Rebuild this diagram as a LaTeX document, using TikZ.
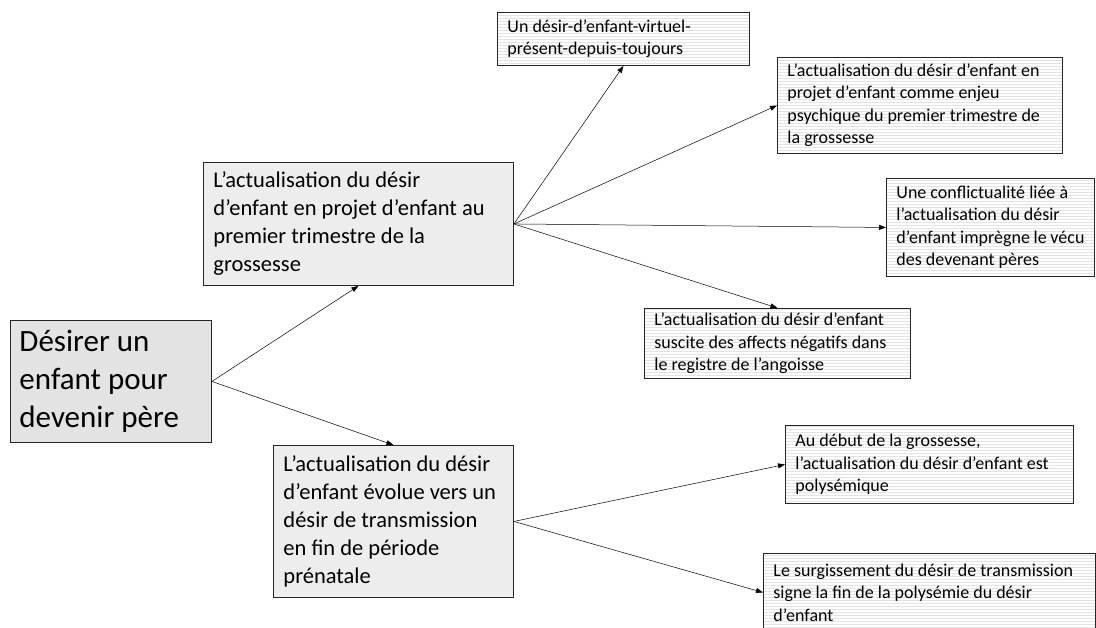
\documentclass[tikz,border=0pt]{standalone}
\usepackage{fontspec}
\setmainfont{Carlito}
\usetikzlibrary{arrows.meta, patterns}

\begin{document}
\begin{tikzpicture}[
    x=1pt, y=-1pt,
    box/.style={rectangle, draw=black!85, line width=0.9pt, anchor=north west, align=flush left, inner xsep=10pt, inner ysep=0pt},
    rootbox/.style={box, fill=gray!22, font=\fontsize{31}{38}\selectfont},
    midbox/.style={box, fill=gray!14, font=\fontsize{22.5}{28}\selectfont},
    leafbox/.style={box, pattern=horizontal lines, pattern color=gray!22, font=\fontsize{18}{22.5}\selectfont},
    arrow/.style={-{Triangle[length=7pt, width=5pt]}, line width=0.5pt},
]

\path[use as bounding box, clip] (0,0) rectangle (1096,628);

% Root
\node[rootbox, minimum width=201pt, minimum height=122pt, text width=183pt, inner xsep=9pt] (root) at (10,320) {Désirer un\\enfant pour\\devenir père};

% Second level
\node[midbox, minimum width=310pt, minimum height=123pt, text width=290pt] (midA) at (203,162)
    {L’actualisation du désir\\d’enfant en projet d’enfant au\\premier trimestre de la\\grossesse};
\node[midbox, minimum width=240pt, minimum height=152pt, text width=220pt] (midB) at (273,445)
    {L’actualisation du désir\\d’enfant évolue vers un\\désir de transmission\\en fin de période\\prénatale};

% Leaves of the first branch
\node[leafbox, minimum width=252pt, minimum height=53pt, text width=232pt] (leafA) at (497,12)
    {Un désir-d’enfant-virtuel-\\présent-depuis-toujours};
\node[leafbox, minimum width=285pt, minimum height=96pt, text width=265pt] (leafB) at (777,57)
    {L’actualisation du désir d’enfant en\\projet d’enfant comme enjeu\\psychique du premier trimestre de\\la grossesse};
\node[leafbox, minimum width=208pt, minimum height=98pt, text width=188pt] (leafC) at (886,178)
    {Une conflictualité liée à\\l’actualisation du désir\\d’enfant imprègne le vécu\\des devenant pères};
\node[leafbox, minimum width=266pt, minimum height=70pt, text width=246pt] (leafD) at (644,308)
    {L’actualisation du désir d’enfant\\suscite des affects négatifs dans\\le registre de l’angoisse};

% Leaves of the second branch
\node[leafbox, minimum width=288pt, minimum height=78pt, text width=268pt] (leafE) at (785,425)
    {Au début de la grossesse,\\l’actualisation du désir d’enfant est\\polysémique};
\node[leafbox, minimum width=332pt, minimum height=78pt, text width=312pt] (leafF) at (763,553)
    {Le surgissement du désir de transmission\\signe la fin de la polysémie du désir\\d’enfant};

% Connectors
\draw[arrow] (root.east) -- (midA.south);
\draw[arrow] (root.east) -- (midB.north);
\draw[arrow] (midA.east) -- (leafA.south);
\draw[arrow] (midA.east) -- (leafB.west);
\draw[arrow] (midA.east) -- (leafC.west);
\draw[arrow] (midA.east) -- (leafD.north);
\draw[arrow] (midB.east) -- (leafE.west);
\draw[arrow] (midB.east) -- (leafF.west);

\end{tikzpicture}
\end{document}
